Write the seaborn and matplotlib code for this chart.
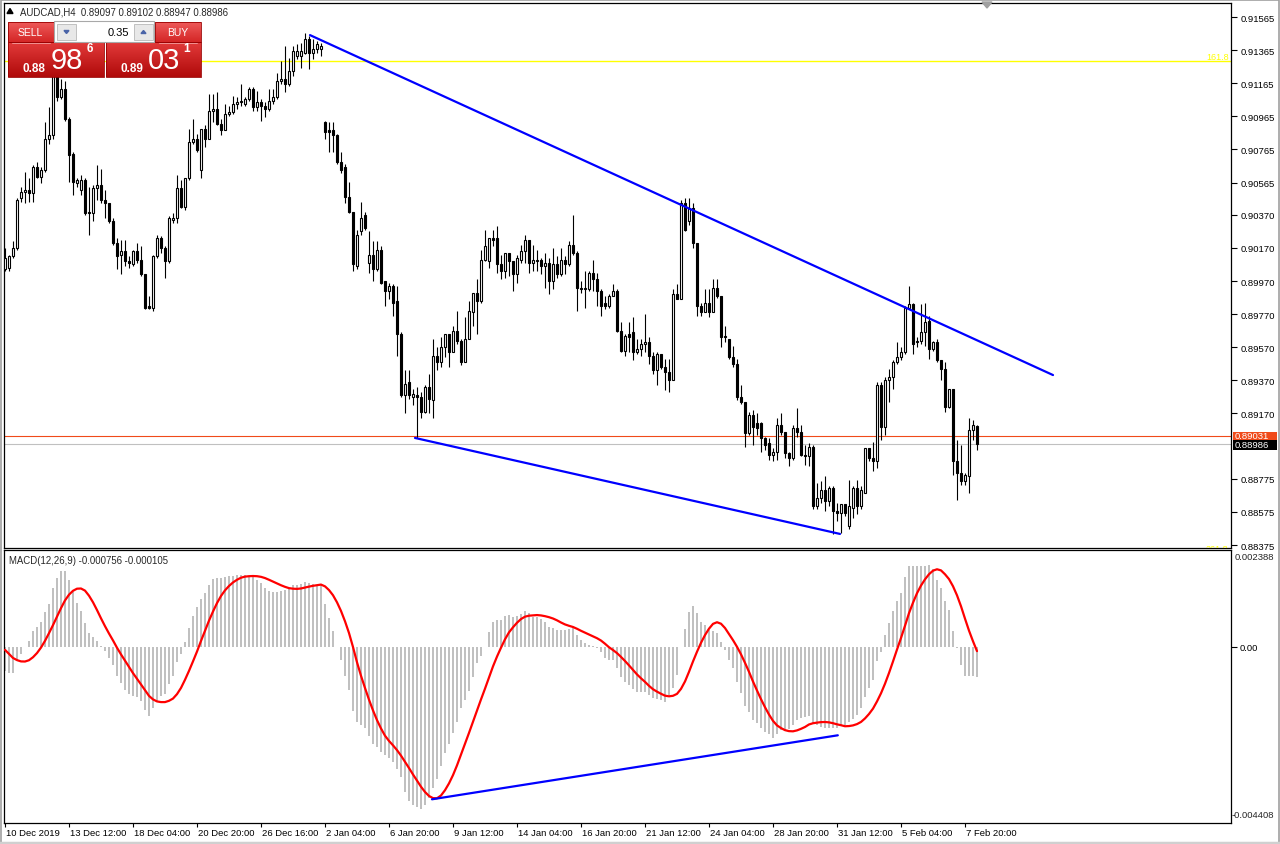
import matplotlib

matplotlib.use("Agg")
import matplotlib.pyplot as plt
import matplotlib.transforms as mtransforms
import numpy as np
import pandas as pd
import seaborn as sns
from matplotlib.colors import LinearSegmentedColormap
from matplotlib.patches import Polygon, Rectangle

# AUDCAD H4 candles, 10 Dec 2019 20:00 .. 10 Feb 2020
opens = [
    .9004, .9005, .9012, .9017, .9047, .9051, .9052, .9050, .9066, .9060,
    .9064, .9083, .9085, .9125, .9108, .9113, .9095, .9074, .9056, .9052,
    .9058, .9039, .9038, .9053, .9055, .9046, .9044, .9033, .9020, .9013,
    .9015, .9009, .9007, .9015, .9010, .9001, .8982, .8981, .9012, .9023,
    .9017, .9009, .9034, .9035, .9053, .9042, .9059, .9081, .9083, .9064,
    .9089, .9083, .9100, .9101, .9092, .9088, .9098, .9099, .9104, .9105,
    .9104, .9107, .9113, .9102, .9105, .9103, .9101, .9106, .9108, .9118,
    .9119, .9116, .9124, .9133, .9133, .9135, .9143, .9135, .9137, .9137,
    .9093, .9088, .9088, .9085, .9069, .9066, .9048, .9039, .9006, .9027,
    .9037, .9008, .9013, .9004, .9016, .8997, .8991, .8994, .8985, .8965,
    .8928, .8936, .8927, .8928, .8927, .8918, .8933, .8925, .8952, .8948,
    .8957, .8965, .8954, .8967, .8961, .8948, .8962, .8978, .8990, .8985,
    .9010, .9009, .9023, .9023, .9007, .9003, .9014, .9009, .9001, .9010,
    .9015, .9022, .9008, .9009, .9010, .9006, .9008, .8997, .9007, .9001,
    .9010, .9007, .9019, .9014, .8993, .8992, .8992, .9002, .8998, .8991,
    .8984, .8982, .8988, .8991, .8967, .8955, .8965, .8966, .8954, .8956,
    .8959, .8960, .8952, .8943, .8953, .8945, .8942, .8937, .8989, .8986,
    .9044, .9033, .9041, .9020, .8982, .8978, .8984, .8978, .8993, .8988,
    .8964, .8962, .8951, .8947, .8927, .8924, .8905, .8916, .8911, .8911,
    .8902, .8899, .8892, .8894, .8910, .8906, .8893, .8890, .8908, .8906,
    .8892, .8891, .8897, .8861, .8866, .8871, .8864, .8872, .8858, .8857,
    .8862, .8849, .8860, .8872, .8861, .8869, .8896, .8890, .8888, .8934,
    .8909, .8937, .8939, .8948, .8951, .8954, .8981, .8983, .8960, .8961,
    .8966, .8973, .8956, .8960, .8949, .8944, .8921, .8932, .8888, .8881,
    .8876, .8879, .8907, .89097,
]
highs = [
    .9017, .9013, .9021, .9047, .9054, .9063, .9059, .9067, .9069, .9066,
    .9093, .9102, .9131, .9135, .9119, .9118, .9096, .9075, .9059, .9061,
    .9059, .9054, .9055, .9067, .9065, .9052, .9044, .9035, .9023, .9022,
    .9022, .9012, .9016, .9020, .9018, .9001, .8988, .9013, .9025, .9024,
    .9018, .9036, .9038, .9061, .9058, .9059, .9089, .9095, .9086, .9089,
    .9091, .9110, .9110, .9111, .9095, .9104, .9103, .9109, .9108, .9116,
    .9108, .9114, .9114, .9112, .9107, .9105, .9113, .9113, .9123, .9130,
    .9139, .9132, .9139, .9140, .9141, .9147, .9145, .9143, .9142, .9141,
    .9094, .9093, .9093, .9086, .9075, .9068, .9057, .9039, .9028, .9045,
    .9039, .9027, .9021, .9021, .9018, .8997, .8996, .8995, .8994, .8966,
    .8943, .8943, .8932, .8933, .8930, .8934, .8941, .8962, .8957, .8963,
    .8965, .8965, .8970, .8979, .8962, .8975, .8985, .8990, .8998, .9016,
    .9028, .9023, .9028, .9030, .9013, .9014, .9014, .9009, .9013, .9019,
    .9025, .9022, .9019, .9016, .9011, .9014, .9011, .9017, .9012, .9017,
    .9012, .9021, .9037, .9015, .8997, .9003, .9003, .9010, .9002, .8992,
    .8988, .8989, .8995, .8992, .8972, .8965, .8972, .8975, .8962, .8962,
    .8977, .8963, .8954, .8954, .8953, .8950, .8950, .8992, .8995, .9046,
    .9047, .9047, .9044, .9020, .8984, .8992, .8992, .8998, .8998, .8988,
    .8970, .8962, .8958, .8950, .8934, .8924, .8918, .8919, .8917, .8912,
    .8903, .8902, .8896, .8914, .8917, .8906, .8894, .8910, .8920, .8910,
    .8898, .8899, .8898, .8875, .8876, .8879, .8873, .8873, .8863, .8862,
    .8862, .8877, .8873, .8877, .8873, .8896, .8896, .8900, .8936, .8936,
    .8939, .8944, .8949, .8960, .8957, .8982, .8994, .8984, .8963, .8983,
    .8984, .8976, .8961, .8962, .8949, .8948, .8932, .8932, .8901, .8898,
    .8881, .8914, .8913, .89102,
]
lows = [
    .9003, .9003, .9011, .9016, .9045, .9044, .9045, .9045, .9059, .9056,
    .9063, .9080, .9083, .9106, .9107, .9094, .9057, .9049, .9054, .9049,
    .9037, .9025, .9033, .9046, .9044, .9035, .9032, .9019, .9004, .9001,
    .9006, .9005, .9006, .9008, .9000, .8980, .8980, .8979, .9011, .9014,
    .8999, .9008, .9032, .9032, .9041, .9040, .9058, .9080, .9075, .9059,
    .9078, .9083, .9093, .9091, .9085, .9088, .9097, .9098, .9101, .9103,
    .9103, .9106, .9100, .9100, .9094, .9096, .9100, .9104, .9107, .9116,
    .9111, .9115, .9121, .9131, .9126, .9134, .9125, .9131, .9135, .9133,
    .9083, .9075, .9075, .9068, .9062, .9044, .9038, .9003, .9004, .9025,
    .9028, .9002, .8997, .9003, .8995, .8982, .8986, .8976, .8952, .8927,
    .8917, .8926, .8922, .8902, .8914, .8917, .8917, .8914, .8943, .8945,
    .8951, .8945, .8954, .8959, .8946, .8948, .8962, .8970, .8965, .8984,
    .9009, .9005, .9018, .9002, .8998, .8999, .9000, .8991, .8996, .9008,
    .9008, .9002, .9003, .9003, .9001, .8993, .8989, .8992, .8999, .9000,
    .9001, .9006, .9013, .8979, .8990, .8981, .8991, .8991, .8982, .8976,
    .8980, .8981, .8988, .8966, .8954, .8952, .8954, .8949, .8953, .8952,
    .8954, .8947, .8941, .8934, .8944, .8931, .8930, .8937, .8986, .8986,
    .9027, .9031, .9017, .8976, .8976, .8978, .8975, .8978, .8987, .8957,
    .8960, .8950, .8945, .8925, .8923, .8897, .8904, .8898, .8904, .8894,
    .8895, .8889, .8888, .8889, .8904, .8890, .8885, .8889, .8903, .8891,
    .8886, .8885, .8859, .8859, .8863, .8858, .8861, .8844, .8852, .8845,
    .8855, .8847, .8854, .8856, .8859, .8869, .8888, .8882, .8884, .8901,
    .8904, .8924, .8932, .8947, .8949, .8953, .8980, .8953, .8957, .8959,
    .8958, .8950, .8955, .8948, .8937, .8918, .8920, .8880, .8865, .8874,
    .8874, .8869, .8901, .88947,
]
closes = [
    .9011, .9012, .9017, .9046, .9051, .9052, .9050, .9066, .9060, .9064,
    .9083, .9085, .9125, .9108, .9113, .9095, .9073, .9057, .9058, .9058,
    .9038, .9038, .9053, .9055, .9046, .9044, .9033, .9020, .9012, .9015,
    .9009, .9008, .9015, .9010, .9001, .8981, .8981, .9012, .9023, .9017,
    .9009, .9035, .9035, .9053, .9042, .9059, .9081, .9083, .9076, .9089,
    .9083, .9100, .9101, .9092, .9088, .9098, .9099, .9104, .9105, .9106,
    .9107, .9113, .9102, .9105, .9103, .9101, .9106, .9108, .9118, .9119,
    .9116, .9124, .9136, .9136, .9136, .9143, .9135, .9137, .9140, .9139,
    .9087, .9087, .9085, .9069, .9064, .9048, .9039, .9007, .9025, .9035,
    .9029, .9013, .9004, .9016, .8996, .8991, .8994, .8984, .8965, .8928,
    .8935, .8928, .8929, .8927, .8918, .8933, .8926, .8952, .8948, .8957,
    .8965, .8954, .8967, .8961, .8948, .8962, .8979, .8990, .8985, .9010,
    .9018, .9023, .9022, .9007, .9003, .9014, .9009, .9001, .9011, .9015,
    .9022, .9008, .9010, .9010, .9006, .9008, .8997, .9007, .9001, .9010,
    .9007, .9019, .9014, .8993, .8992, .8993, .9002, .8998, .8991, .8982,
    .8982, .8988, .8991, .8967, .8955, .8964, .8963, .8954, .8956, .8959,
    .8960, .8952, .8943, .8953, .8945, .8942, .8937, .8989, .8986, .9044,
    .9028, .9041, .9020, .8982, .8978, .8984, .8978, .8993, .8988, .8963,
    .8963, .8951, .8947, .8927, .8924, .8905, .8916, .8909, .8908, .8902,
    .8898, .8892, .8894, .8910, .8906, .8893, .8890, .8908, .8906, .8892,
    .8891, .8897, .8861, .8866, .8871, .8864, .8872, .8858, .8857, .8862,
    .8857, .8861, .8872, .8861, .8871, .8896, .8890, .8888, .8934, .8909,
    .8937, .8939, .8948, .8951, .8954, .8981, .8983, .8959, .8961, .8966,
    .8972, .8956, .8960, .8949, .8944, .8921, .8932, .8888, .8881, .8876,
    .8880, .8907, .8910, .88986,
]

# MACD(12,26,9) main line, in millionths
macd_main_e6 = [
    -612, -671, -671, -336, -193, -25, 143, 378, 503, 629,
    856, 1066, 1485, 1720, 1913, 1888, 1678, 1384, 1107, 898,
    587, 336, 227, 151, 17, -101, -277, -461, -755, -923,
    -1091, -1200, -1242, -1259, -1384, -1594, -1737, -1552, -1384, -1242,
    -1200, -948, -755, -378, -185, 109, 461, 772, 982, 1200,
    1342, 1552, 1695, 1720, 1720, 1737, 1762, 1787, 1804, 1804,
    1804, 1787, 1762, 1678, 1594, 1485, 1401, 1384, 1384, 1401,
    1426, 1468, 1552, 1552, 1577, 1619, 1586, 1569, 1552, 1552,
    1066, 713, 378, -25, -336, -755, -1091, -1619, -1905, -1988,
    -2056, -2265, -2458, -2542, -2643, -2727, -2811, -2895, -3079, -3297,
    -3650, -3885, -4002, -4052, -4094, -4002, -3801, -3566, -3331, -3020,
    -2685, -2458, -2181, -1888, -1552, -1342, -1116, -780, -420, -250,
    -21, 357, 617, 671, 671, 780, 797, 730, 780, 814,
    898, 839, 755, 730, 696, 629, 503, 478, 403, 403,
    403, 445, 461, 294, 168, 84, 42, 25, -42, -126,
    -277, -336, -336, -529, -780, -881, -965, -1074, -1149, -1149,
    -1149, -1233, -1300, -1326, -1359, -1401, -1217, -1032, -713, -17,
    445, 881, 1024, 839, 629, 529, 420, 378, 352, 109,
    -92, -336, -545, -881, -1175, -1510, -1653, -1846, -1930, -2056,
    -2156, -2207, -2307, -2207, -2114, -2123, -2072, -1972, -1846, -1804,
    -1787, -1737, -1930, -1972, -2014, -2039, -2056, -2039, -2056, -1988,
    -1972, -1888, -1821, -1720, -1552, -1259, -1032, -839, -361, -126,
    277, 604, 898, 1149, 1359, 1737, 2014, 2014, 2014, 2014,
    2014, 2056, 1955, 1678, 1485, 1133, 923, 394, -42, -461,
    -755, -755, -730, -756,
]
# the 8 bars just left of the window, needed for the SMA(9) signal
macd_before_e6 = [250, 250, 150, 100, 0, -150, -300, -444]

date_labels = [
    "10 Dec 2019", "13 Dec 12:00", "18 Dec 04:00", "20 Dec 20:00",
    "26 Dec 16:00", "2 Jan 04:00", "6 Jan 20:00", "9 Jan 12:00",
    "14 Jan 04:00", "16 Jan 20:00", "21 Jan 12:00", "24 Jan 04:00",
    "28 Jan 20:00", "31 Jan 12:00", "5 Feb 04:00", "7 Feb 20:00",
]
price_ticks = [
    0.91565, 0.91365, 0.91165, 0.90965, 0.90765, 0.90565, 0.90370, 0.90170,
    0.89970, 0.89770, 0.89570, 0.89370, 0.89170, 0.88775, 0.88575, 0.88375,
]

ask_price = 0.89031
bid_price = 0.88986
fibo_161 = 0.91299
fibo_261 = 0.88327
# hand drawn trend lines: (bar positions, values)
trend_upper = ([76.25, 262.0], [0.91456, 0.89402])
trend_lower = ([102.5, 208.75], [0.89022, 0.88442])
trend_macd = ([106.75, 208.2], [-0.003846, -0.002235])

sns.set_style("white")
plt.rcParams["font.family"] = ["Liberation Sans", "DejaVu Sans"]

W, H = 1280, 845
fig = plt.figure(figsize=(12.8, 8.45), dpi=100)
fig.patch.set_facecolor("white")


def px_box(x0, y0, x1, y1):
    return [x0 / W, 1 - y1 / H, (x1 - x0) / W, (y1 - y0) / H]


ax = fig.add_axes(px_box(4, 4, 1231, 549))
axm = fig.add_axes(px_box(4, 551, 1231, 823.5), sharex=ax)

df = pd.DataFrame({"open": opens, "high": highs, "low": lows, "close": closes})
df["pos"] = np.arange(len(df))
bull = df["close"] >= df["open"]
body_low = df[["open", "close"]].min(axis=1)
body_h = (df["close"] - df["open"]).abs().clip(lower=1e-6)

# price panel
ax.axhline(fibo_161, color="#ffff00", lw=1.0, zorder=1)
ax.axhline(ask_price, color="#f04a1a", lw=0.8, zorder=1)
ax.axhline(bid_price, color="#c0c0c0", lw=0.8, zorder=1)
ax.vlines(df["pos"], df["low"], df["high"], color="black", lw=0.8, zorder=3)
ax.bar(df["pos"], body_h, bottom=body_low, width=0.5,
       color=np.where(bull, "white", "black"), edgecolor="black", lw=0.8, zorder=4)
for xs, ys in (trend_upper, trend_lower):
    sns.lineplot(x=xs, y=ys, color="#0000ff", lw=1.6, ax=ax, zorder=5)
ax.text(0.998, fibo_161, "161.8", transform=ax.get_yaxis_transform(), ha="right", va="bottom",
        color="#ffff00", fontsize=6.5)
ax.text(0.998, fibo_261, "261.8", transform=ax.get_yaxis_transform(), ha="right", va="bottom",
        color="#ffff00", fontsize=6.5, clip_on=True)

ax.set_xlim(-0.25, 306.5)
ax.set_ylim(0.88357, 0.91650)
ax.yaxis.tick_right()
ax.set_yticks(price_ticks)
ax.set_yticklabels([f"{v:.5f}" for v in price_ticks])
ax.tick_params(axis="y", length=4, width=0.8, pad=3, labelsize=6.8, colors="black", right=True)
ax.tick_params(axis="x", bottom=False, labelbottom=False)
ax.set_xlabel("")
ax.set_ylabel("")

# MACD panel
macd = pd.Series(macd_before_e6 + macd_main_e6) * 1e-6
signal = macd.rolling(9).mean().iloc[len(macd_before_e6):].to_numpy()
main = macd.iloc[len(macd_before_e6):].to_numpy()
axm.bar(df["pos"], main, width=0.72, color="#c0c0c0", lw=0, zorder=2)
sns.lineplot(x=df["pos"], y=signal, color="#ff0000", lw=1.6, ax=axm, zorder=3)
sns.lineplot(x=trend_macd[0], y=trend_macd[1], color="#0000ff", lw=1.6, ax=axm, zorder=4)
axm.set_ylim(-0.00443, 0.002429)
axm.yaxis.tick_right()
axm.set_yticks([0.0])
axm.set_yticklabels(["0.00"])
axm.tick_params(axis="y", length=4, width=0.8, pad=2, labelsize=6.8, colors="black", right=True)
axm.set_xticks(np.arange(len(date_labels)) * 16)
axm.set_xticklabels(date_labels)
axm.tick_params(axis="x", length=3, width=0.8, pad=1, labelsize=6.8, colors="black", bottom=True)
shift = mtransforms.ScaledTranslation(1 / 100, 0, fig.dpi_scale_trans)
for lbl in axm.get_xticklabels():
    lbl.set_horizontalalignment("left")
    lbl.set_transform(lbl.get_transform() + shift)
axm.set_xlabel("")
axm.set_ylabel("")

for a in (ax, axm):
    for sp in a.spines.values():
        sp.set_color("black")
        sp.set_linewidth(0.9)

fig.text(1235 / W, 1 - 558 / H, "0.002388", fontsize=6.8, va="center")
fig.text(1232 / W, 1 - 816 / H, "-0.004408", fontsize=6.8, va="center")
fig.text(20 / W, 1 - 12.5 / H, "AUDCAD,H4  0.89097 0.89102 0.88947 0.88986", fontsize=6.9, va="center")
fig.text(9 / W, 1 - 561 / H, "MACD(12,26,9) -0.000756 -0.000105", fontsize=6.9, va="center")

# terminal chrome and one-click trading panel, drawn in pixel space
ov = fig.add_axes([0, 0, 1, 1], zorder=10)
ov.set_xlim(0, W)
ov.set_ylim(H, 0)
ov.axis("off")
ov.patch.set_alpha(0)

ov.add_patch(Polygon([(7, 14.5), (13, 14.5), (10, 9.5)], closed=True, color="black"))
ov.add_patch(Polygon([(982, 3), (992, 3), (987, 9)], closed=True, color="#a0a0a0"))
ov.plot([1, 1, 1279, 1279], [845, 1, 1, 845], color="#a0a0a0", lw=1.2)
ov.plot([0, 1280], [843.5, 843.5], color="#d0d0d0", lw=2.5)


def grad(x0, y0, x1, y1, top, bottom):
    cmap = LinearSegmentedColormap.from_list("g", [top, bottom])
    ov.imshow(np.linspace(0, 1, 64).reshape(-1, 1), extent=(x0, x1, y1, y0), cmap=cmap,
              aspect="auto", interpolation="bilinear", zorder=2)
    ov.add_patch(Rectangle((x0, y0), x1 - x0, y1 - y0, fill=False, ec="#9a0000", lw=0.6, zorder=3))


grad(8, 23, 53.5, 43, "#ee5a5a", "#d42626")
grad(155, 23, 201, 43, "#ee5a5a", "#d42626")
grad(8, 43, 104, 78, "#e23a3a", "#b00a0a")
grad(106, 43, 201, 78, "#e23a3a", "#b00a0a")
ov.plot([12, 50], [43.5, 43.5], color="#f4a0a0", lw=0.6, zorder=4)
ov.plot([159, 197], [43.5, 43.5], color="#f4a0a0", lw=0.6, zorder=4)
ov.add_patch(Rectangle((54, 22), 100, 21, fc="white", ec="#a8a8a8", lw=0.8, zorder=3))
for bx in (57, 134):
    ov.add_patch(Rectangle((bx, 25), 19, 16, fc="#e8e8e8", ec="#b8b8b8", lw=0.6, zorder=4))
ov.add_patch(Polygon([(64, 31.5), (69, 31.5), (66.5, 34.5)], closed=True, color="#4a64a8", zorder=5))
ov.add_patch(Polygon([(141, 34.5), (146, 34.5), (143.5, 31.5)], closed=True, color="#4a64a8", zorder=5))

ov.text(30.5, 33, "SELL", color="white", fontsize=7.5, ha="center", va="center", zorder=6)
ov.text(178, 33, "BUY", color="white", fontsize=7.5, ha="center", va="center", zorder=6)
ov.text(129, 33, "0.35", color="black", fontsize=8, ha="right", va="center", zorder=6)
ov.text(34, 68.5, "0.88", color="white", fontsize=8.5, fontweight="bold", ha="center", va="center", zorder=6)
ov.text(67, 61, "98", color="white", fontsize=21, ha="center", va="center", zorder=6)
ov.text(89.5, 48.5, "6", color="white", fontsize=8.5, fontweight="bold", ha="center", va="center", zorder=6)
ov.text(132, 68.5, "0.89", color="white", fontsize=8.5, fontweight="bold", ha="center", va="center", zorder=6)
ov.text(164, 61, "03", color="white", fontsize=21, ha="center", va="center", zorder=6)
ov.text(187, 48.5, "1", color="white", fontsize=8.5, fontweight="bold", ha="center", va="center", zorder=6)

# current ask / bid price tags on the scale
ov.add_patch(Rectangle((1233, 432.5), 44, 9, fc="#f04a1a", ec="none", zorder=3))
ov.text(1235, 437, f"{ask_price:.5f}", color="white", fontsize=6.8, va="center", zorder=4)
ov.add_patch(Rectangle((1233, 440.5), 44, 10, fc="black", ec="none", zorder=5))
ov.text(1235, 445.5, f"{bid_price:.5f}", color="white", fontsize=6.8, va="center", zorder=6)

ov.set_xlim(0, W)
ov.set_ylim(H, 0)

fig.savefig("out.png", dpi=100, facecolor="white")
plt.close(fig)
